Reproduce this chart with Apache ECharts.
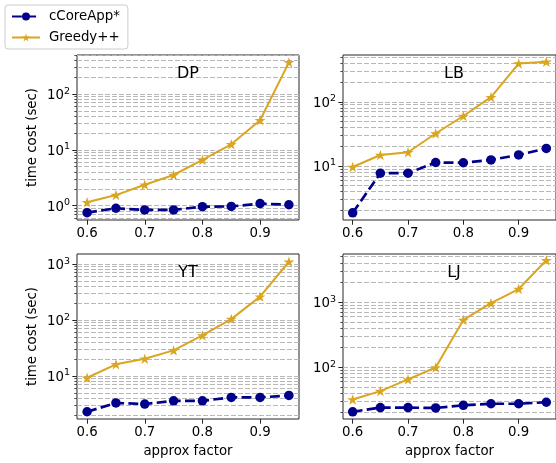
<!DOCTYPE html>
<html>
<head>
<meta charset="utf-8">
<script src="https://cdn.jsdelivr.net/npm/echarts@6/dist/echarts.min.js"></script>
<style>
html,body{margin:0;padding:0;background:#fff;}
#c{width:556px;height:463px;}
</style>
</head>
<body>
<div id="c"></div>
<script>
// ---- data ----
const approxFactors = [0.6, 0.65, 0.7, 0.75, 0.8, 0.85, 0.9, 0.95];
const xTickValues = [0.6, 0.7, 0.8, 0.9];
const datasetNames = ['DP', 'LB', 'YT', 'LJ'];
const seriesNames = ['cCoreApp*', 'Greedy++'];

const dpCore   = [0.75, 0.90, 0.84, 0.84, 0.96, 0.97, 1.09, 1.04];
const dpGreedy = [1.15, 1.55, 2.38, 3.55, 6.6, 12.6, 34, 370];
const lbCore   = [1.85, 7.7, 7.7, 11.3, 11.2, 12.4, 14.8, 18.7];
const lbGreedy = [9.6, 14.8, 16.3, 32, 60, 118, 395, 420];
const ytCore   = [2.3, 3.3, 3.16, 3.6, 3.6, 4.15, 4.15, 4.5];
const ytGreedy = [9.3, 16.2, 20.3, 28.7, 53, 104, 262, 1100];
const ljCore   = [20.7, 24, 24, 23.7, 26, 27.5, 27.5, 29];
const ljGreedy = [32, 43, 65, 99, 533, 965, 1590, 4400];

// log10 axis extents of each panel
const dpRange = [-0.256, 2.70];
const lbRange = [0.156, 2.73];
const ytRange = [0.232, 3.18];
const ljRange = [1.205, 3.74];

// ---- build ----
const panels = [
  {name: datasetNames[0], core: dpCore, greedy: dpGreedy, range: dpRange, left: 77,  top: 55,  yName: true,  xName: false},
  {name: datasetNames[1], core: lbCore, greedy: lbGreedy, range: lbRange, left: 343, top: 55,  yName: false, xName: false},
  {name: datasetNames[2], core: ytCore, greedy: ytGreedy, range: ytRange, left: 77,  top: 254, yName: true,  xName: true},
  {name: datasetNames[3], core: ljCore, greedy: ljGreedy, range: ljRange, left: 343, top: 254, yName: false, xName: true}
];
const W = 222, H = 165;
const FONT = 'DejaVu Sans';
const AXC = '#262626';
const GRIDC = '#b8b8b8';
const CORE_C = '#00008B';
const GREEDY_C = '#DAA520';
const STAR = 'path://M50,0 L61.2,34.5 L97.6,34.5 L68.2,55.9 L79.4,90.5 L50,69.1 L20.6,90.5 L31.8,55.9 L2.4,34.5 L38.8,34.5 Z';

function majors(r) {
  const out = [];
  for (let k = Math.floor(r[0]); k <= Math.ceil(r[1]); k++) {
    if (k >= r[0] && k <= r[1]) out.push(Math.pow(10, k));
  }
  return out;
}
function minors(r) {
  const out = [];
  for (let k = Math.floor(r[0]); k <= Math.ceil(r[1]); k++) {
    for (let m = 2; m <= 9; m++) {
      const v = m * Math.pow(10, k);
      const lv = Math.log10(v);
      if (lv >= r[0] && lv <= r[1]) out.push(v);
    }
  }
  return out;
}

const grid = [], xAxis = [], yAxis = [], series = [], graphic = [];
panels.forEach((p, i) => {
  grid.push({left: p.left, top: p.top, width: W, height: H, show: true,
    borderColor: AXC, borderWidth: 1, backgroundColor: 'transparent', containLabel: false});
  xAxis.push({
    type: 'value', gridIndex: i, min: 0.5825, max: 0.9675,
    axisLine: {show: false},
    axisTick: {show: true, length: 4.7, lineStyle: {color: AXC, width: 1}, customValues: xTickValues},
    axisLabel: {show: true, margin: 7, color: '#000', fontFamily: FONT, fontSize: 13.33,
      customValues: xTickValues, formatter: v => v.toFixed(1)},
    splitLine: {show: false},
    name: p.xName ? 'approx factor' : '', nameLocation: 'middle', nameGap: 26,
    nameTextStyle: {color: '#000', fontFamily: FONT, fontSize: 13.33}
  });
  const mn = Math.pow(10, p.range[0]), mx = Math.pow(10, p.range[1]);
  const maj = majors(p.range), mnr = minors(p.range);
  // major axis
  yAxis.push({
    type: 'log', logBase: 10, gridIndex: i, min: mn, max: mx,
    axisLine: {show: false},
    axisTick: {show: true, length: 4.7, lineStyle: {color: AXC, width: 1}, customValues: maj},
    axisLabel: {show: true, margin: 7, color: '#000', fontFamily: FONT, customValues: maj,
      formatter: v => '{b|10}{s|' + Math.round(Math.log10(v)) + '}',
      rich: {
        b: {fontSize: 13.33, fontFamily: FONT, color: '#000', padding: [3, 0, 0, 0]},
        s: {fontSize: 9.5, fontFamily: FONT, color: '#000', verticalAlign: 'top'}
      }},
    splitLine: {show: true, lineStyle: {color: GRIDC, width: 1, type: [5, 2]}},
    name: p.yName ? 'time cost (sec)' : '', nameLocation: 'middle', nameGap: 38, nameRotate: 90,
    nameTextStyle: {color: '#000', fontFamily: FONT, fontSize: 13.33}
  });
  // minor axis
  yAxis.push({
    type: 'log', logBase: 10, gridIndex: i, min: mn, max: mx, position: 'left', offset: 0,
    axisLine: {show: false},
    axisTick: {show: true, length: 2.7, lineStyle: {color: AXC, width: 0.8}, customValues: mnr},
    axisLabel: {show: false},
    splitLine: {show: true, lineStyle: {color: GRIDC, width: 1, type: [5, 2]}}
  });
  series.push({
    name: seriesNames[0], type: 'line', xAxisIndex: i, yAxisIndex: 2 * i,
    data: approxFactors.map((x, j) => [x, p.core[j]]),
    symbol: 'circle', symbolSize: 9.5, showSymbol: true,
    itemStyle: {color: CORE_C}, lineStyle: {color: CORE_C, width: 2.67, type: [9.9, 4.3]},
    z: 3, clip: true
  });
  series.push({
    name: seriesNames[1], type: 'line', xAxisIndex: i, yAxisIndex: 2 * i,
    data: approxFactors.map((x, j) => [x, p.greedy[j]]),
    symbol: STAR, symbolSize: 11, symbolKeepAspect: true, showSymbol: true,
    itemStyle: {color: GREEDY_C}, lineStyle: {color: GREEDY_C, width: 2},
    z: 4, clip: true
  });
  graphic.push({
    type: 'text', x: p.left + W / 2, y: p.top + 19,
    style: {text: p.name, fill: '#000', font: '16px "DejaVu Sans"', textAlign: 'center', textVerticalAlign: 'middle'},
    z: 10
  });
});

const chart = echarts.init(document.getElementById('c'), null, {renderer: 'canvas'});
chart.setOption({
  animation: false,
  backgroundColor: '#fff',
  textStyle: {fontFamily: FONT},
  grid, xAxis, yAxis, series, graphic,
  legend: {
    data: seriesNames, orient: 'vertical', left: 5, top: 5,
    padding: [5, 8, 5, 6], itemWidth: 28, itemHeight: 10, itemGap: 8,
    backgroundColor: '#fff', borderColor: '#cccccc', borderWidth: 1, borderRadius: 3,
    textStyle: {fontFamily: FONT, fontSize: 13.33, color: '#000', padding: [0, 0, 0, 4]},
    z: 20
  }
});
</script>
</body>
</html>
